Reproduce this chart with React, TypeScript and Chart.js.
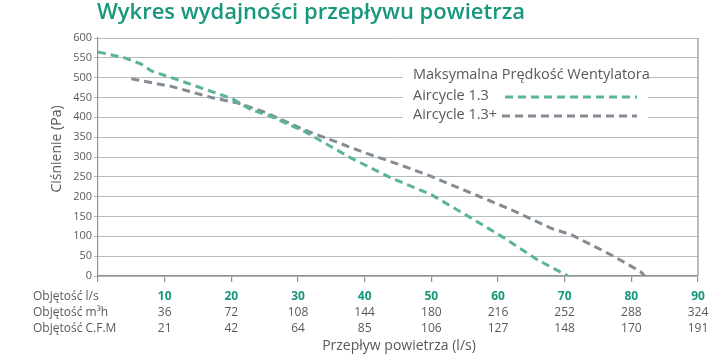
import React, { useEffect, useRef } from "react";
import { Chart, registerables } from "chart.js";

Chart.register(...registerables);

const TITLE = "Wykres wydajności przepływu powietrza";
const Y_TITLE = "Ciśnienie (Pa)";
const X_TITLE = "Przepływ powietrza (l/s)";
const LEGEND_HEADER = "Maksymalna Prędkość Wentylatora";
const SERIES_NAMES = ["Aircycle 1.3", "Aircycle 1.3+"];

const greenX = [0, 4, 6.5, 8, 11, 20, 23, 26, 31, 38, 41, 44, 50, 56, 61, 66, 70.5];
const greenY = [565, 550, 534, 517, 500, 448, 419, 402, 364, 297, 272, 247, 205, 146, 95, 40, 0];

const greyX = [5, 11, 17, 21, 25, 31, 40, 45, 50, 56, 62, 68, 71, 77, 81.4, 82];
const greyY = [497, 478, 450, 436, 413, 368, 311, 282, 251, 209, 167, 120, 104, 53, 11, 0];

const flowLs = [10, 20, 30, 40, 50, 60, 70, 80, 90];
const flowM3h = [36, 72, 108, 144, 180, 216, 252, 288, 324];
const flowCfm = [21, 42, 64, 85, 106, 127, 148, 170, 191];
const rowLabels = ["Objętość l/s", "Objętość m³h", "Objętość C.F.M"];

const GREEN = "#5cb39b";
const GREY = "#848b93";
const TITLE_GREEN = "#17977b";
const TEXT = "#555a5e";
const GRID = "#b8bcbf";
const AXIS = "#8d9397";
const FONT = "'Open Sans', sans-serif";

const overlay = {
  id: "overlay",
  afterDraw(chart: any) {
    const { ctx } = chart;
    const xs = chart.scales.x;
    const ys = chart.scales.y;
    ctx.save();

    // title
    ctx.fillStyle = TITLE_GREEN;
    ctx.font = `600 22px ${FONT}`;
    ctx.textAlign = "left";
    ctx.textBaseline = "alphabetic";
    ctx.fillText(TITLE, 97, 19);

    // y title
    ctx.save();
    ctx.translate(57, (ys.top + ys.bottom) / 2 - 8);
    ctx.rotate(-Math.PI / 2);
    ctx.fillStyle = TEXT;
    ctx.font = `14px ${FONT}`;
    ctx.textAlign = "center";
    ctx.textBaseline = "middle";
    ctx.fillText(Y_TITLE, 0, 0);
    ctx.restore();

    // right border
    ctx.strokeStyle = AXIS;
    ctx.lineWidth = 1.2;
    ctx.beginPath();
    ctx.moveTo(xs.right, ys.top);
    ctx.lineTo(xs.right, ys.bottom);
    ctx.stroke();

    // table
    const rowsY = [297, 313, 329];
    ctx.textBaseline = "middle";
    ctx.font = `12px ${FONT}`;
    ctx.fillStyle = TEXT;
    ctx.textAlign = "left";
    rowLabels.forEach((l, i) => ctx.fillText(l, 33, rowsY[i]));
    ctx.textAlign = "center";
    const rows = [flowLs, flowM3h, flowCfm];
    rows.forEach((row, r) => {
      row.forEach((v, i) => {
        const px = xs.getPixelForValue(flowLs[i]);
        if (r === 0) {
          ctx.font = `bold 12px ${FONT}`;
          ctx.fillStyle = TITLE_GREEN;
        } else {
          ctx.font = `12px ${FONT}`;
          ctx.fillStyle = TEXT;
        }
        ctx.fillText(String(v), px, rowsY[r]);
      });
    });

    // x title
    ctx.font = `14px ${FONT}`;
    ctx.fillStyle = TEXT;
    ctx.textAlign = "center";
    ctx.fillText(X_TITLE, 399, 346);

    // legend box
    ctx.fillStyle = "#ffffff";
    ctx.fillRect(403, 64, 245, 60);
    ctx.fillStyle = TEXT;
    ctx.textAlign = "left";
    ctx.font = `14.5px ${FONT}`;
    ctx.fillText(LEGEND_HEADER, 413, 75);
    const ly = [96, 115];
    const lc = [GREEN, GREY];
    SERIES_NAMES.forEach((n, i) => {
      ctx.fillStyle = TEXT;
      ctx.fillText(n, 413, ly[i]);
      ctx.strokeStyle = lc[i];
      ctx.lineWidth = 3;
      ctx.setLineDash([8, 5]);
      ctx.beginPath();
      ctx.moveTo(i === 0 ? 505 : 502, ly[i] + 1);
      ctx.lineTo(637, ly[i] + 1);
      ctx.stroke();
    });
    ctx.setLineDash([]);
    ctx.restore();
  },
};

export default function App() {
  const ref = useRef<HTMLCanvasElement>(null);
  useEffect(() => {
    if (!ref.current) return;
    Chart.defaults.font.family = FONT;
    const chart = new Chart(ref.current, {
      type: "line",
      data: {
        datasets: [
          {
            label: SERIES_NAMES[0],
            data: greenX.map((x, i) => ({ x, y: greenY[i] })),
            borderColor: GREEN,
            borderWidth: 3,
            borderDash: [8, 5],
            pointRadius: 0,
            tension: 0,
            fill: false,
          },
          {
            label: SERIES_NAMES[1],
            data: greyX.map((x, i) => ({ x, y: greyY[i] })),
            borderColor: GREY,
            borderWidth: 3,
            borderDash: [8, 5],
            pointRadius: 0,
            tension: 0,
            fill: false,
          },
        ],
      },
      options: {
        responsive: false,
        animation: false,
        layout: { padding: { left: 0, top: 38, right: 23, bottom: 0 } },
        plugins: { legend: { display: false }, tooltip: { enabled: false } },
        scales: {
          x: {
            type: "linear",
            min: 0,
            max: 90,
            ticks: { stepSize: 10, display: false },
            grid: { drawOnChartArea: false, drawTicks: true, tickLength: 6, color: AXIS, lineWidth: 1.2 },
            border: { color: AXIS, width: 1.2 },
            afterFit: (s: any) => {
              s.height = 82;
            },
          },
          y: {
            type: "linear",
            min: 0,
            max: 600,
            ticks: { stepSize: 50, color: TEXT, font: { size: 11, family: FONT }, padding: 2 },
            grid: { color: GRID, lineWidth: 1, tickLength: 4 },
            border: { color: AXIS, width: 1.2 },
            afterFit: (s: any) => {
              s.width = 98;
            },
          },
        },
      },
      plugins: [overlay],
    });
    return () => chart.destroy();
  }, []);
  return (
    <div style={{ position: "fixed", left: 0, top: 0, width: 721, height: 358, background: "#fff" }}>
      <canvas ref={ref} width={721} height={358} style={{ display: "block" }} />
    </div>
  );
}
